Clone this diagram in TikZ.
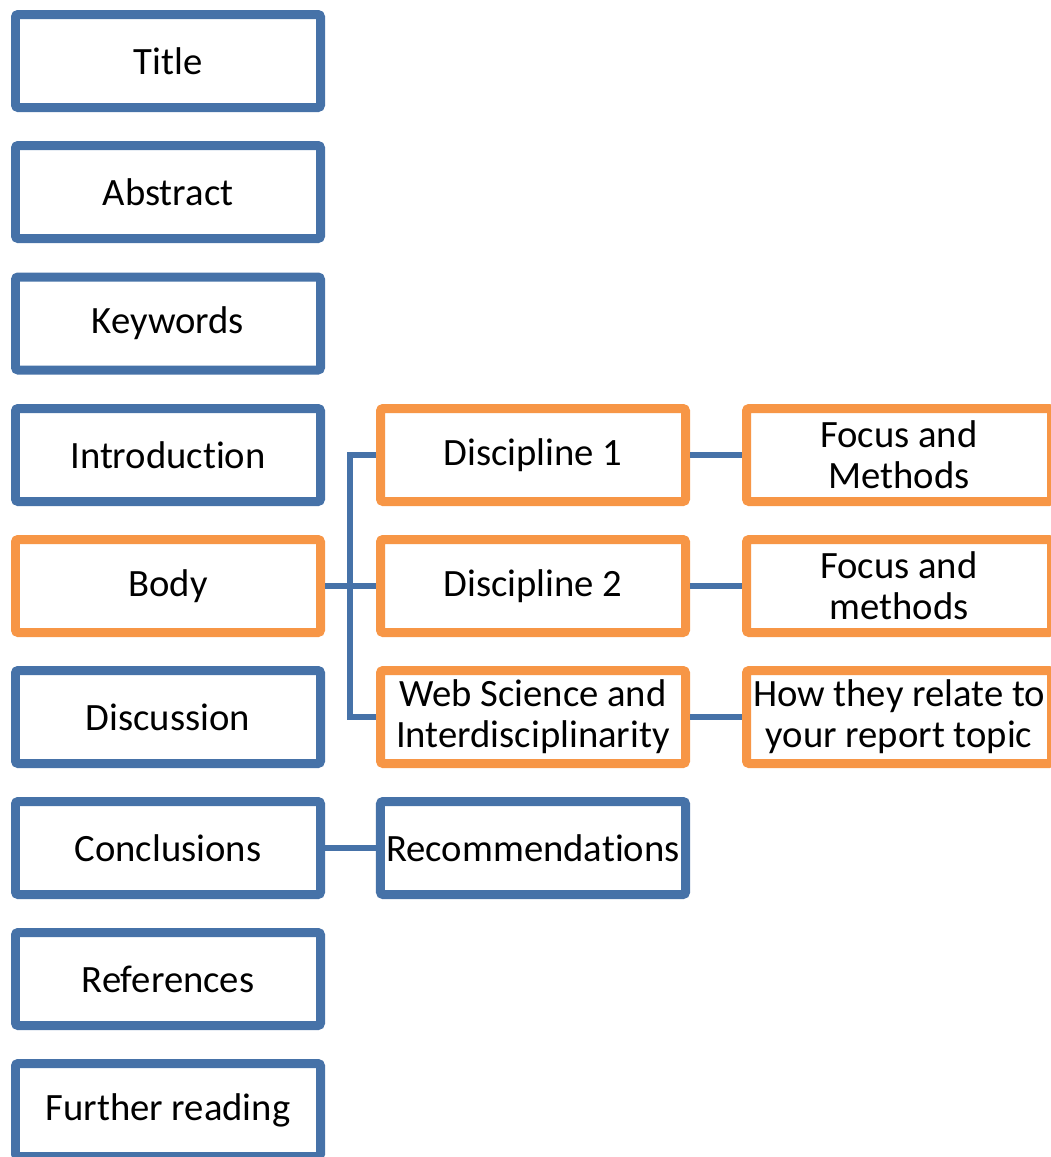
\documentclass[tikz,border=0pt]{standalone}
\usepackage{fontspec}
\setmainfont[Ligatures=NoCommon]{Carlito}
\usepackage{tikz}
\usetikzlibrary{shadows}
\definecolor{boxblue}{RGB}{70,114,168}
\definecolor{boxorange}{RGB}{247,150,70}
\tikzstyle{bluebox} = [rectangle, rounded corners=1.5pt, minimum width=6.1cm, minimum height=1.86cm, text centered, align=center, line width=0.18cm, draw=boxblue, fill=white, font=\fontsize{22}{23.5}\selectfont, drop shadow={shadow xshift=0pt, shadow yshift=-2pt, opacity=0.25}]
\tikzstyle{orangebox} = [bluebox, draw=boxorange]
\tikzstyle{link} = [line width=0.12cm, draw=boxblue]

\begin{document}
\begin{tikzpicture}
        \useasboundingbox (0,0) rectangle (21,-23.14);
        \node [bluebox] at (3.36,-1.22) (title) {Title};
        \node [bluebox] at (3.36,-3.84) (abstract) {Abstract};
        \node [bluebox] at (3.36,-6.47) (keywords) {Keywords};
        \node [bluebox] at (3.36,-9.10) (intro) {Introduction};
        \node [orangebox] at (3.36,-11.72) (body) {Body};
        \node [bluebox] at (3.36,-14.34) (discussion) {Discussion};
        \node [bluebox] at (3.36,-16.96) (conclusions) {Conclusions};
        \node [bluebox] at (3.36,-19.58) (references) {References};
        \node [bluebox] at (3.36,-22.20) (further) {Further reading};
        \node [orangebox] at (10.66,-9.10) (disc1) {Discipline 1};
        \node [orangebox] at (10.66,-11.72) (disc2) {Discipline 2};
        \node [orangebox] at (10.66,-14.34) (websci) {Web Science and\\Interdisciplinarity};
        \node [bluebox] at (10.66,-16.96) (recomm) {Recommendations};
        \node [orangebox] at (17.98,-9.10) (focus1) {Focus and\\Methods};
        \node [orangebox] at (17.98,-11.72) (focus2) {Focus and\\methods};
        \node [orangebox] at (17.98,-14.34) (relate) {How they relate to\\your report topic};
        \coordinate (trunk) at (7.0,-11.72);
        \draw [link] (body) -- (disc2);
        \draw [link] (disc1.west) -| (trunk) |- (websci.west);
        \draw [link] (disc1) -- (focus1);
        \draw [link] (disc2) -- (focus2);
        \draw [link] (websci) -- (relate);
        \draw [link] (conclusions) -- (recomm);
        \end{tikzpicture}
\end{document}
